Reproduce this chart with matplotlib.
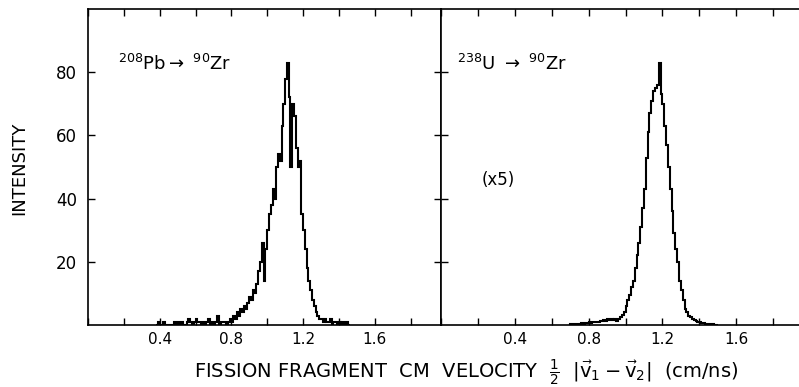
import numpy as np
import matplotlib
matplotlib.use('Agg')
import matplotlib.pyplot as plt
from matplotlib.ticker import MultipleLocator, FixedLocator

plt.rcParams['font.family'] = 'DejaVu Sans'
plt.rcParams['mathtext.fontset'] = 'dejavusans'

# 208Pb -> 90Zr, bins of 0.01 cm/ns starting at 0.38
pb_start = 0.38
pb_counts = [0, 1, 0, 0, 1, 0, 0, 0, 0, 0,
             1, 0, 1, 0, 1, 0, 0, 1, 2, 1,
             0, 1, 2, 1, 1, 0, 1, 0, 1, 2,
             0, 1, 0, 1, 3, 0, 1, 1, 1, 0,
             1, 2, 1, 3, 2, 4, 3, 5, 4, 6,
             5, 7, 9, 8, 11, 10, 13, 17, 20, 26,
             14, 24, 30, 35, 38, 43, 40, 50, 54, 52,
             63, 70, 78, 83, 72, 50, 70, 66, 56, 50,
             52, 35, 30, 24, 18, 14, 11, 8, 6, 4,
             3, 2, 2, 1, 2, 1, 1, 2, 0, 1,
             1, 0, 1, 0, 1, 0, 1, 0]

# 238U -> 90Zr (x5), bins of 0.01 cm/ns starting at 0.70
u_start = 0.70
u_counts = [0.2, 0.3, 0.2, 0.3, 0.4, 0.3, 0.5, 0.4, 0.5, 0.6,
            0.8, 0.7, 1.0, 0.8, 1.1, 1.0, 1.3, 1.2, 1.5, 1.4,
            1.8, 1.6, 2.0, 1.6, 1.8, 1.2, 1.8, 2.5, 3.2, 4.0,
            6, 8, 9.5, 12, 14, 18, 22, 26, 31, 37,
            43, 53, 61, 67, 71, 74, 75, 76, 83, 73,
            70, 63, 57, 50, 43, 36, 29, 24, 20, 14,
            11, 8, 5, 4, 3, 2.5, 2, 1.6, 1.2, 1.0,
            0.8, 0.6, 0.5, 0.4, 0.3, 0.3, 0.2, 0.2, 0.1, 0.1]
bin_w = 0.01

yticks = [20, 40, 60, 80]
xlabels = [0.4, 0.8, 1.2, 1.6]

fig = plt.figure(figsize=(7.99, 3.87), dpi=100)
ax1 = fig.add_axes([88/799, 62/387, 353/799, 316/387])
ax2 = fig.add_axes([441/799, 62/387, 369/799, 316/387])

for ax, start, counts, xmax in [(ax1, pb_start, pb_counts, 1.97),
                                (ax2, u_start, u_counts, 2.0)]:
    edges = start + bin_w*np.arange(len(counts) + 1)
    ax.stairs(counts, edges, color='k', lw=1.5)
    ax.set_xlim(0, xmax)
    ax.set_ylim(0, 100)
    ax.xaxis.set_minor_locator(MultipleLocator(0.2))
    ax.xaxis.set_major_locator(FixedLocator(xlabels))
    ax.set_xticklabels(['0.4', '0.8', '1.2', '1.6'], fontsize=11)
    ax.set_yticks(yticks)
    ax.tick_params(which='both', direction='in', top=True, bottom=True,
                   length=5, width=1)
    ax.tick_params(axis='x', pad=5)
    for s in ax.spines.values():
        s.set_linewidth(1.2)

ax1.tick_params(axis='y', left=True, right=True, labelsize=12, pad=8)
ax2.tick_params(axis='y', left=True, right=False, labelleft=False)
ax2.spines['right'].set_visible(False)

ax1.text(0.168, 80.7, r'$^{208}$Pb$\rightarrow$ $^{90}$Zr', fontsize=13,
         ha='left', va='baseline')
ax2.text(0.087, 80.7, r'$^{238}$U $\rightarrow$ $^{90}$Zr', fontsize=13,
         ha='left', va='baseline')
ax2.text(0.31, 46, '(x5)', fontsize=12, ha='center', va='center')

fig.text(0.024, 1 - 168/387, 'INTENSITY', rotation=90, fontsize=13,
         ha='center', va='center')
fig.text(466/799, 1 - 373/387,
         r'FISSION FRAGMENT  CM  VELOCITY  $\frac{1}{2}$  $|\vec{\mathrm{v}}_1 - \vec{\mathrm{v}}_2|$  (cm/ns)',
         fontsize=14, ha='center', va='center')

fig.savefig('out.png', dpi=100)
